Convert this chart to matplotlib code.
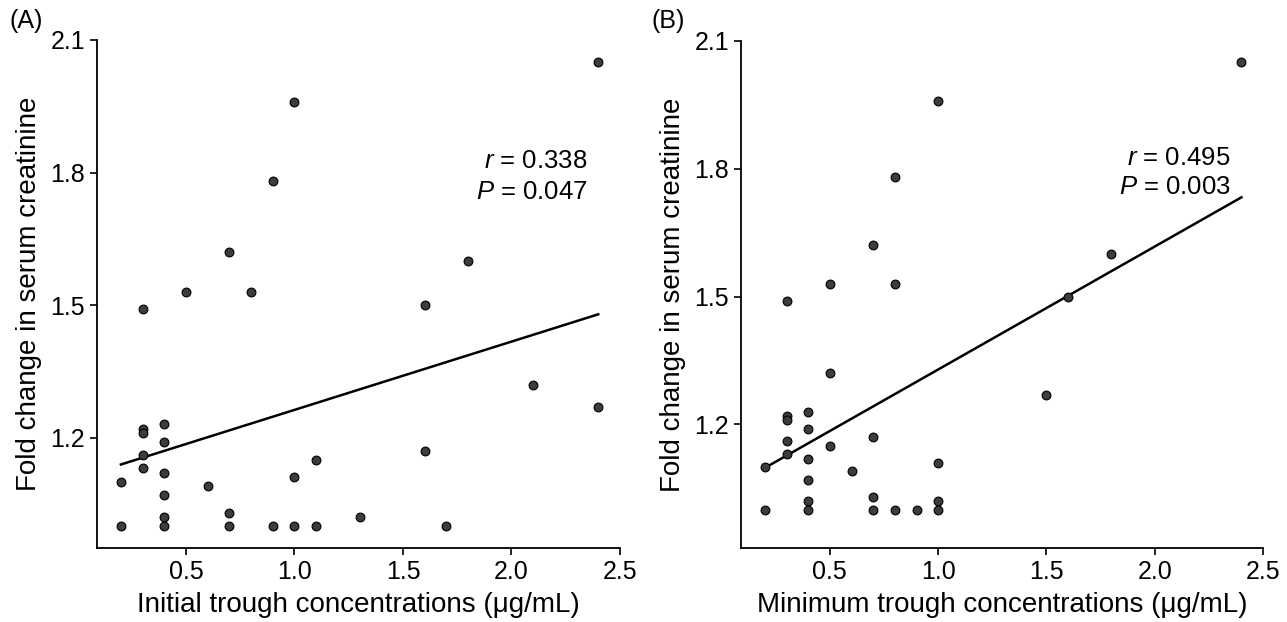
import matplotlib
matplotlib.use("Agg")
import matplotlib.pyplot as plt
import numpy as np

plt.rcParams['font.family'] = ['Liberation Sans', 'DejaVu Sans']
plt.rcParams['mathtext.fontset'] = 'custom'
plt.rcParams['mathtext.it'] = 'Liberation Sans:italic'
plt.rcParams['mathtext.rm'] = 'Liberation Sans'

# Panel A: initial trough concentrations vs fold change in serum creatinine
init_x = [0.2, 0.2, 0.3, 0.3, 0.3, 0.3, 0.3, 0.4, 0.4, 0.4, 0.4, 0.4, 0.4,
          0.5, 0.6, 0.7, 0.7, 0.7, 0.8, 0.9, 0.9, 1.0, 1.0, 1.0, 1.1, 1.1,
          1.3, 1.6, 1.6, 1.7, 1.8, 2.1, 2.4, 2.4]
init_y = [1.10, 1.00, 1.49, 1.22, 1.21, 1.16, 1.13, 1.23, 1.19, 1.12, 1.07, 1.02, 1.00,
          1.53, 1.09, 1.62, 1.03, 1.00, 1.53, 1.78, 1.00, 1.96, 1.11, 1.00, 1.15, 1.00,
          1.02, 1.50, 1.17, 1.00, 1.60, 1.32, 2.05, 1.27]
# regression line (start, end)
init_fit_x = [0.2, 2.4]
init_fit_y = [1.139, 1.479]

# Panel B: minimum trough concentrations vs fold change in serum creatinine
min_x = [0.2, 0.2, 0.3, 0.3, 0.3, 0.3, 0.3, 0.4, 0.4, 0.4, 0.4, 0.4, 0.4,
         0.5, 0.5, 0.5, 0.6, 0.7, 0.7, 0.7, 0.7, 0.8, 0.8, 0.8, 0.9,
         1.0, 1.0, 1.0, 1.0, 1.5, 1.6, 1.8, 2.4]
min_y = [1.10, 1.00, 1.49, 1.22, 1.21, 1.16, 1.13, 1.23, 1.19, 1.12, 1.07, 1.02, 1.00,
         1.53, 1.32, 1.15, 1.09, 1.62, 1.17, 1.03, 1.00, 1.78, 1.53, 1.00, 1.00,
         1.96, 1.11, 1.02, 1.00, 1.27, 1.50, 1.60, 2.05]
min_fit_x = [0.2, 2.4]
min_fit_y = [1.098, 1.733]

panels = [
    ("(A)", init_x, init_y, init_fit_x, init_fit_y,
     "Initial trough concentrations (\u03bcg/mL)", "0.338", "0.047",
     (0.95, 2.1), [0.0754, 0.119, 0.4063, 0.8167], 0.007),
    ("(B)", min_x, min_y, min_fit_x, min_fit_y,
     "Minimum trough concentrations (\u03bcg/mL)", "0.495", "0.003",
     (0.91, 2.1), [0.5758, 0.119, 0.4056, 0.8151], 0.506),
]

fig = plt.figure(figsize=(12.87, 6.22), dpi=100)

for tag, xs, ys, fx, fy, xlabel, rval, pval, ylim, pos, tagx in panels:
    ax = fig.add_axes(pos)
    ax.scatter(xs, ys, s=40, color='#3c3c3c', edgecolors='black',
               linewidths=0.8, zorder=3)
    ax.plot(fx, fy, color='black', lw=1.8, zorder=2)

    ax.set_xlim(0.09, 2.5)
    ax.set_ylim(*ylim)
    ax.set_xticks([0.5, 1.0, 1.5, 2.0, 2.5])
    ax.set_yticks([1.2, 1.5, 1.8, 2.1])
    ax.spines['top'].set_visible(False)
    ax.spines['right'].set_visible(False)
    ax.spines['left'].set_linewidth(1.3)
    ax.spines['bottom'].set_linewidth(1.3)
    ax.tick_params(labelsize=18, width=1.2, length=5, colors='black')
    ax.set_xlabel(xlabel, fontsize=20, labelpad=6)
    ax.set_ylabel("Fold change in serum creatinine", fontsize=20, labelpad=6)

    ax.text(2.35, 1.826, "$\\it{r}$ = " + rval, fontsize=18.5,
            ha='right', va='center')
    ax.text(2.35, 1.757, "$\\it{P}$ = " + pval, fontsize=18.5,
            ha='right', va='center')
    fig.text(tagx, 0.985, tag, fontsize=18, ha='left', va='top')

plt.savefig('out.png', dpi=100)
